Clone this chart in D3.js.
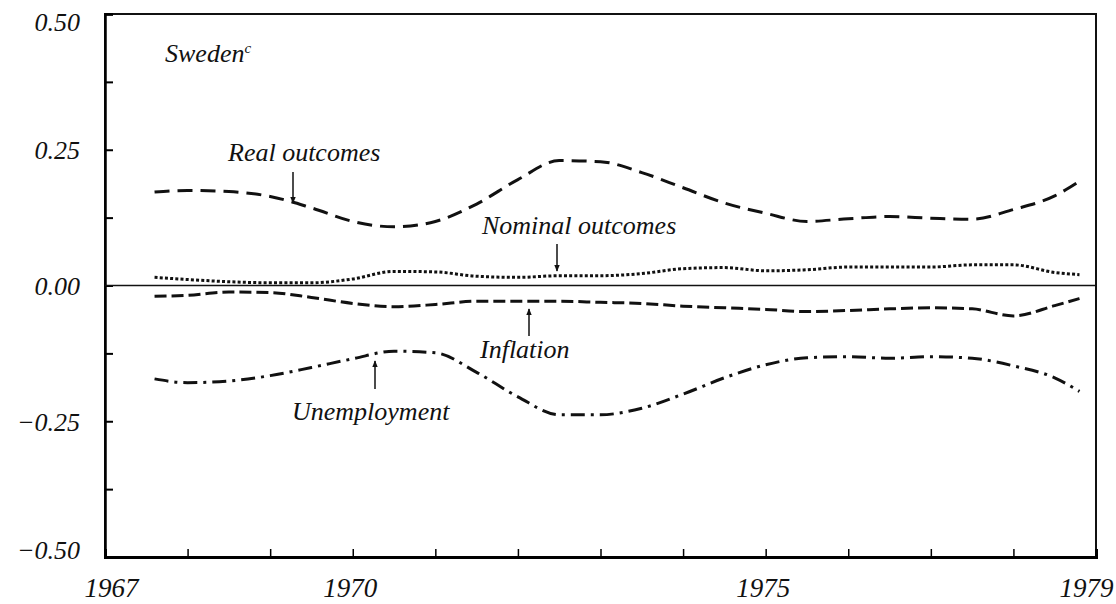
<!DOCTYPE html>
<html>
<head>
<meta charset="utf-8">
<script src="https://cdn.jsdelivr.net/npm/d3@7"></script>
<style>
  body { margin: 0; background: #fff; }
  svg text { font-family: "Liberation Serif", "Times New Roman", Times, serif; font-style: italic; fill: #111; }
</style>
</head>
<body>
<div id="chart"></div>
<script>
// half-yearly points
var years = [1967.6, 1968.0, 1968.5, 1969.0, 1969.5, 1970.0, 1970.5, 1971.0, 1971.5, 1972.0, 1972.5, 1973.0,
  1973.5, 1974.0, 1974.5, 1975.0, 1975.5, 1976.0, 1976.5, 1977.0, 1977.5, 1978.0, 1978.5, 1978.8];

var realOutcomes = [0.172, 0.175, 0.173, 0.164, 0.143, 0.118, 0.108, 0.118, 0.150, 0.195, 0.230, 0.228,
  0.208, 0.180, 0.152, 0.133, 0.118, 0.123, 0.127, 0.124, 0.122, 0.140, 0.165, 0.192];

var nominalOutcomes = [0.015, 0.011, 0.007, 0.005, 0.005, 0.012, 0.026, 0.025, 0.017, 0.015, 0.018, 0.018,
  0.022, 0.031, 0.033, 0.027, 0.029, 0.034, 0.034, 0.034, 0.038, 0.038, 0.024, 0.020];

var inflation = [-0.020, -0.018, -0.012, -0.013, -0.022, -0.033, -0.039, -0.035, -0.029, -0.029, -0.029, -0.031,
  -0.033, -0.038, -0.041, -0.044, -0.048, -0.046, -0.043, -0.041, -0.043, -0.056, -0.037, -0.024];

var unemployment = [-0.172, -0.179, -0.176, -0.166, -0.151, -0.135, -0.121, -0.124, -0.160, -0.205, -0.238, -0.238,
  -0.226, -0.200, -0.170, -0.146, -0.133, -0.131, -0.134, -0.131, -0.134, -0.148, -0.170, -0.195];

var yTickLabels = [-0.5, -0.25, 0, 0.25, 0.5];
var xTickLabels = [1967, 1970, 1975, 1979];

var svgWidth = 1116;
var svgHeight = 604;
var serif = "'Liberation Serif', 'Times New Roman', Times, serif";

var margin = { top: 14, right: 20, bottom: 47, left: 105 };
var width = 1096 - margin.left;
var height = svgHeight - margin.top - margin.bottom;

var svg = d3.select("#chart")
  .append("svg")
  .attr("width", svgWidth)
  .attr("height", svgHeight);

svg.append("defs").append("marker")
  .attr("id", "arrow")
  .attr("viewBox", "0 0 10 10")
  .attr("refX", 9)
  .attr("refY", 5)
  .attr("markerWidth", 7)
  .attr("markerHeight", 7)
  .attr("markerUnits", "userSpaceOnUse")
  .attr("orient", "auto")
  .append("path")
  .attr("d", "M0,1 L10,5 L0,9 Z")
  .attr("fill", "#111");

var chartGroup = svg.append("g")
  .attr("transform", `translate(${margin.left}, ${margin.top})`);

var xScale = d3.scaleLinear()
  .domain([1967, 1979])
  .range([0, width]);

var yScale = d3.scaleLinear()
  .domain([-0.5, 0.5])
  .range([height, 0]);

// frame
chartGroup.append("rect")
  .attr("x", 0)
  .attr("y", 0)
  .attr("width", width)
  .attr("height", height)
  .attr("fill", "none")
  .attr("stroke", "#111")
  .attr("stroke-width", 2);

// inward ticks
var leftTicks = d3.axisLeft(yScale)
  .tickValues(d3.range(-0.5, 0.5001, 0.125))
  .tickSize(-8)
  .tickFormat("");

chartGroup.append("g")
  .call(leftTicks)
  .call(g => g.select(".domain").attr("stroke-width", 2.5))
  .call(g => g.selectAll(".tick line").attr("stroke-width", 2));

var bottomTicks = d3.axisBottom(xScale)
  .tickValues(d3.range(1968, 1979, 1))
  .tickSize(-8)
  .tickFormat("");

chartGroup.append("g")
  .attr("transform", `translate(0, ${height})`)
  .call(bottomTicks)
  .call(g => g.select(".domain").attr("stroke-width", 3))
  .call(g => g.selectAll(".tick line").attr("stroke-width", 1.5));

// tick labels
var leftLabels = d3.axisLeft(yScale)
  .tickValues(yTickLabels)
  .tickSize(0)
  .tickPadding(25)
  .tickFormat(d => (d < 0 ? "\u2212" : "") + Math.abs(d).toFixed(2));

chartGroup.append("g")
  .call(leftLabels)
  .attr("font-family", serif)
  .call(g => g.select(".domain").remove())
  .call(g => g.selectAll("text")
    .attr("font-size", 26)
    .attr("font-style", "italic")
    .attr("fill", "#111")
    .attr("dy", d => d === 0.5 ? "0.65em" : (d === -0.5 ? "0.05em" : "0.35em")));

var bottomLabels = d3.axisBottom(xScale)
  .tickValues(xTickLabels)
  .tickSize(0)
  .tickPadding(21)
  .tickFormat(d3.format("d"));

chartGroup.append("g")
  .attr("transform", `translate(0, ${height})`)
  .call(bottomLabels)
  .attr("font-family", serif)
  .call(g => g.select(".domain").remove())
  .call(g => g.selectAll("text")
    .attr("font-size", 27)
    .attr("font-style", "italic")
    .attr("fill", "#111")
    .attr("x", d => d === 1967 ? 6 : (d === 1979 ? -10 : -3)));

// zero line
chartGroup.append("line")
  .attr("x1", 0)
  .attr("x2", width)
  .attr("y1", yScale(0))
  .attr("y2", yScale(0))
  .attr("stroke", "#111")
  .attr("stroke-width", 1.6);

var series = [
  { values: realOutcomes, dash: "15,8", width: 3 },
  { values: nominalOutcomes, dash: "3,2.2", width: 3 },
  { values: inflation, dash: "12,5", width: 3 },
  { values: unemployment, dash: "14,6,3,6", width: 3 }
];

var line = d3.line()
  .x(d => xScale(d[0]))
  .y(d => yScale(d[1]))
  .curve(d3.curveMonotoneX);

chartGroup.selectAll(".series")
  .data(series)
  .enter()
  .append("path")
  .attr("class", "series")
  .attr("d", s => line(years.map((yr, i) => [yr, s.values[i]])))
  .attr("fill", "none")
  .attr("stroke", "#111")
  .attr("stroke-width", s => s.width)
  .attr("stroke-dasharray", s => s.dash);

// annotations
var sweden = svg.append("text")
  .attr("x", 165)
  .attr("y", 62)
  .attr("font-family", serif)
  .attr("font-size", 26);
sweden.append("tspan").text("Sweden");
sweden.append("tspan")
  .attr("font-size", 15)
  .attr("dy", -9)
  .text("c");

var labels = [
  { text: "Real outcomes", x: 228, y: 161, ax: 293, ay1: 172, ay2: 203 },
  { text: "Nominal outcomes", x: 482, y: 234, ax: 557, ay1: 244, ay2: 271 },
  { text: "Inflation", x: 480, y: 358, ax: 529, ay1: 336, ay2: 309 },
  { text: "Unemployment", x: 292, y: 420, ax: 375, ay1: 389, ay2: 361 }
];

svg.selectAll(".note")
  .data(labels)
  .enter()
  .append("text")
  .attr("class", "note")
  .attr("x", d => d.x)
  .attr("y", d => d.y)
  .attr("font-family", serif)
  .attr("font-size", 26)
  .text(d => d.text);

svg.selectAll(".pointer")
  .data(labels)
  .enter()
  .append("line")
  .attr("class", "pointer")
  .attr("x1", d => d.ax)
  .attr("x2", d => d.ax)
  .attr("y1", d => d.ay1)
  .attr("y2", d => d.ay2)
  .attr("stroke", "#111")
  .attr("stroke-width", 1.5)
  .attr("marker-end", "url(#arrow)");
</script>
</body>
</html>
